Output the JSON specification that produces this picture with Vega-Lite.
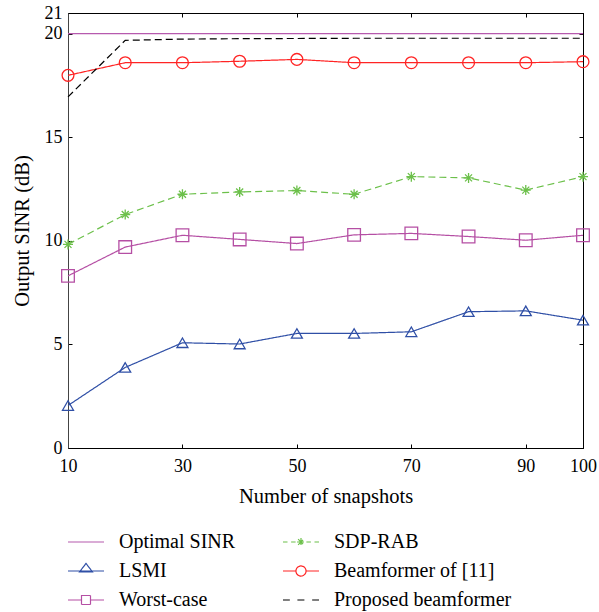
{
  "$schema": "https://vega.github.io/schema/vega-lite/v6.json",
  "width": 515,
  "height": 435,
  "autosize": "none",
  "padding": {"left": 68, "top": 13, "right": 16, "bottom": 164},
  "background": "white",
  "config": {
    "view": {"stroke": "black", "strokeWidth": 1},
    "font": "Liberation Serif",
    "axis": {
      "labelFont": "Liberation Serif",
      "labelFontSize": 18,
      "labelColor": "black",
      "labelFlush": false,
      "titleFont": "Liberation Serif",
      "titleFontSize": 20.5,
      "titleFontWeight": "normal",
      "titleColor": "black",
      "domainColor": "black",
      "tickColor": "black",
      "grid": false,
      "tickSize": -4
    }
  },
  "data": {
    "values": [
      {"n": 10, "series": "Optimal SINR", "sinr": 20.0},
      {"n": 20, "series": "Optimal SINR", "sinr": 20.0},
      {"n": 30, "series": "Optimal SINR", "sinr": 20.0},
      {"n": 40, "series": "Optimal SINR", "sinr": 20.0},
      {"n": 50, "series": "Optimal SINR", "sinr": 20.0},
      {"n": 60, "series": "Optimal SINR", "sinr": 20.0},
      {"n": 70, "series": "Optimal SINR", "sinr": 20.0},
      {"n": 80, "series": "Optimal SINR", "sinr": 20.0},
      {"n": 90, "series": "Optimal SINR", "sinr": 20.0},
      {"n": 100, "series": "Optimal SINR", "sinr": 20.0},

      {"n": 10, "series": "LSMI", "sinr": 2.05},
      {"n": 20, "series": "LSMI", "sinr": 3.89},
      {"n": 30, "series": "LSMI", "sinr": 5.08},
      {"n": 40, "series": "LSMI", "sinr": 5.02},
      {"n": 50, "series": "LSMI", "sinr": 5.53},
      {"n": 60, "series": "LSMI", "sinr": 5.53},
      {"n": 70, "series": "LSMI", "sinr": 5.61},
      {"n": 80, "series": "LSMI", "sinr": 6.58},
      {"n": 90, "series": "LSMI", "sinr": 6.62},
      {"n": 100, "series": "LSMI", "sinr": 6.17},

      {"n": 10, "series": "Worst-case", "sinr": 8.31},
      {"n": 20, "series": "Worst-case", "sinr": 9.70},
      {"n": 30, "series": "Worst-case", "sinr": 10.27},
      {"n": 40, "series": "Worst-case", "sinr": 10.07},
      {"n": 50, "series": "Worst-case", "sinr": 9.87},
      {"n": 60, "series": "Worst-case", "sinr": 10.29},
      {"n": 70, "series": "Worst-case", "sinr": 10.36},
      {"n": 80, "series": "Worst-case", "sinr": 10.21},
      {"n": 90, "series": "Worst-case", "sinr": 10.03},
      {"n": 100, "series": "Worst-case", "sinr": 10.27},

      {"n": 10, "series": "SDP-RAB", "sinr": 9.83},
      {"n": 20, "series": "SDP-RAB", "sinr": 11.27},
      {"n": 30, "series": "SDP-RAB", "sinr": 12.25},
      {"n": 40, "series": "SDP-RAB", "sinr": 12.36},
      {"n": 50, "series": "SDP-RAB", "sinr": 12.43},
      {"n": 60, "series": "SDP-RAB", "sinr": 12.25},
      {"n": 70, "series": "SDP-RAB", "sinr": 13.10},
      {"n": 80, "series": "SDP-RAB", "sinr": 13.04},
      {"n": 90, "series": "SDP-RAB", "sinr": 12.45},
      {"n": 100, "series": "SDP-RAB", "sinr": 13.10},

      {"n": 10, "series": "Beamformer of [11]", "sinr": 17.99},
      {"n": 20, "series": "Beamformer of [11]", "sinr": 18.60},
      {"n": 30, "series": "Beamformer of [11]", "sinr": 18.60},
      {"n": 40, "series": "Beamformer of [11]", "sinr": 18.67},
      {"n": 50, "series": "Beamformer of [11]", "sinr": 18.76},
      {"n": 60, "series": "Beamformer of [11]", "sinr": 18.60},
      {"n": 70, "series": "Beamformer of [11]", "sinr": 18.60},
      {"n": 80, "series": "Beamformer of [11]", "sinr": 18.60},
      {"n": 90, "series": "Beamformer of [11]", "sinr": 18.60},
      {"n": 100, "series": "Beamformer of [11]", "sinr": 18.65},

      {"n": 10, "series": "Proposed beamformer", "sinr": 16.95},
      {"n": 20, "series": "Proposed beamformer", "sinr": 19.68},
      {"n": 30, "series": "Proposed beamformer", "sinr": 19.74},
      {"n": 40, "series": "Proposed beamformer", "sinr": 19.76},
      {"n": 50, "series": "Proposed beamformer", "sinr": 19.77},
      {"n": 60, "series": "Proposed beamformer", "sinr": 19.78},
      {"n": 70, "series": "Proposed beamformer", "sinr": 19.78},
      {"n": 80, "series": "Proposed beamformer", "sinr": 19.78},
      {"n": 90, "series": "Proposed beamformer", "sinr": 19.78},
      {"n": 100, "series": "Proposed beamformer", "sinr": 19.78}
    ]
  },
  "resolve": {"axis": {"x": "independent", "y": "independent"}},
  "layer": [
    {
      "mark": {"type": "line", "strokeWidth": 1.2, "clip": false},
      "encoding": {
        "x": {
          "field": "n", "type": "quantitative",
          "scale": {"domain": [10, 100], "nice": false, "zero": false},
          "axis": {
            "values": [10, 30, 50, 70, 90, 100],
            "title": "Number of snapshots",
            "labelPadding": 13,
            "titlePadding": 11
          }
        },
        "y": {
          "field": "sinr", "type": "quantitative",
          "scale": {"domain": [0, 21], "nice": false, "zero": false},
          "axis": {
            "values": [0, 5, 10, 15, 20, 21],
            "title": "Output SINR (dB)",
            "labelPadding": 10,
            "titlePadding": 12,
            "domainColor": "#444"
          }
        },
        "color": {
          "field": "series", "type": "nominal",
          "scale": {
            "domain": ["Optimal SINR", "LSMI", "Worst-case", "SDP-RAB", "Beamformer of [11]", "Proposed beamformer"],
            "range": ["#b65aae", "#2f4fa6", "#b54fa4", "#6cc04a", "#ff2424", "#000000"]
          },
          "legend": {
            "title": null,
            "orient": "none",
            "legendX": -1,
            "legendY": 510,
            "direction": "vertical",
            "columns": 2,
            "columnPadding": 44,
            "rowPadding": 0,
            "symbolSize": 1296,
            "symbolStrokeWidth": 1.2,
            "labelFont": "Liberation Serif",
            "labelFontSize": 20,
            "labelColor": "black",
            "labelOffset": 14,
            "labelLimit": 400,
            "encode": {
              "symbols": {
                "update": {
                  "fill": {"value": "transparent"},
                  "strokeDash": {"value": []},
                  "shape": {
                    "signal": "datum.value === 'LSMI' ? 'M-1,0H1M0,-0.42L-0.36,0.05L0.36,0.05Z' : datum.value === 'Worst-case' ? 'M-1,0H-0.25M0.25,0H1M-0.25,-0.25H0.25V0.25H-0.25Z' : datum.value === 'SDP-RAB' ? 'M-1,0H-0.75M-0.55,0H-0.3M0.3,0H0.55M0.75,0H1M0,-0.22V0.22M-0.22,0H0.22M-0.16,-0.16L0.16,0.16M-0.16,0.16L0.16,-0.16' : datum.value === 'Beamformer of [11]' ? 'M-1,0H-0.28M0.28,0H1M0.28,0A0.28,0.28 0 1,1 -0.28,0A0.28,0.28 0 1,1 0.28,0' : datum.value === 'Proposed beamformer' ? 'M-1,0H-0.62M-0.2,0H0.2M0.62,0H1' : 'M-1,0H1'"
                  }
                }
              }
            }
          }
        },
        "strokeDash": {
          "field": "series", "type": "nominal",
          "scale": {
            "domain": ["Optimal SINR", "LSMI", "Worst-case", "SDP-RAB", "Beamformer of [11]", "Proposed beamformer"],
            "range": [[1, 0], [1, 0], [1, 0], [7, 4], [1, 0], [7, 4]]
          },
          "legend": null
        }
      }
    },
    {
      "transform": [{"filter": "datum.series !== 'Optimal SINR' && datum.series !== 'Proposed beamformer'"}],
      "mark": {"type": "point", "filled": false, "strokeWidth": 1.3, "opacity": 1, "clip": false},
      "encoding": {
        "x": {"field": "n", "type": "quantitative", "axis": null},
        "y": {"field": "sinr", "type": "quantitative", "axis": null},
        "color": {"field": "series", "type": "nominal"},
        "shape": {
          "field": "series", "type": "nominal",
          "scale": {
            "domain": ["SDP-RAB", "LSMI", "Beamformer of [11]", "Worst-case"],
            "range": ["M0,-1V1M-1,0H1M-0.7,-0.7L0.7,0.7M-0.7,0.7L0.7,-0.7", "triangle-up", "circle", "square"]
          },
          "legend": null
        },
        "size": {
          "field": "series", "type": "nominal",
          "scale": {
            "domain": ["SDP-RAB", "LSMI", "Beamformer of [11]", "Worst-case"],
            "range": [100, 160, 125, 115]
          },
          "legend": null
        }
      }
    },
    {
      "mark": {"type": "point", "opacity": 0},
      "encoding": {
        "x": {
          "field": "n", "type": "quantitative",
          "axis": {"orient": "top", "values": [10, 30, 50, 70, 90, 100], "labels": false, "title": null}
        },
        "y": {
          "field": "sinr", "type": "quantitative",
          "axis": {"orient": "right", "values": [0, 5, 10, 15, 20, 21], "labels": false, "title": null}
        }
      }
    }
  ]
}
